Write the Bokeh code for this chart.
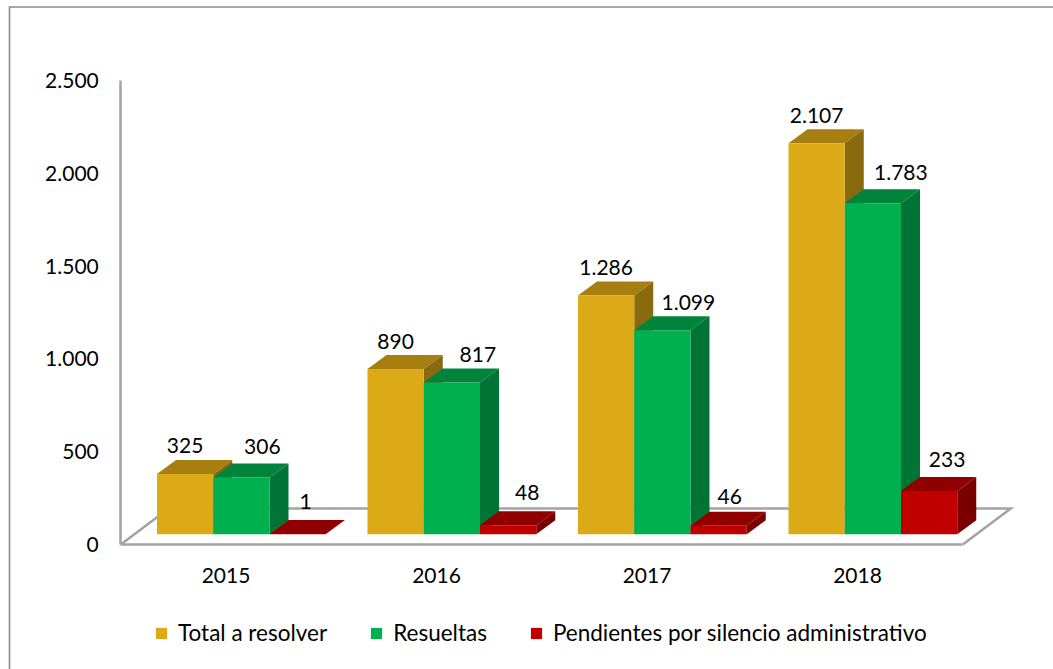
from bokeh.embed import file_html
from bokeh.resources import INLINE
from bokeh.plotting import figure
from bokeh.models import ColumnDataSource, FixedTicker, Legend, LegendItem, LinearAxis
from bokeh.core.properties import value

# ---- data ----
years = ["2015", "2016", "2017", "2018"]
total_a_resolver = [325, 890, 1286, 2107]
resueltas = [306, 817, 1099, 1783]
pendientes = [1, 48, 46, 233]
series_names = ["Total a resolver", "Resueltas", "Pendientes por silencio administrativo"]
y_ticks = [0, 500, 1000, 1500, 2000, 2500]
y_tick_labels = ["0", "500", "1.000", "1.500", "2.000", "2.500"]
value_labels = [
    ["325", "890", "1.286", "2.107"],
    ["306", "817", "1.099", "1.783"],
    ["1", "48", "46", "233"],
]

# ---- styling / layout ----
front_colors = ["#DCAA17", "#00B050", "#C00000"]
top_colors = ["#A67F10", "#00843C", "#900000"]
side_colors = ["#8A6A0E", "#007434", "#7A0000"]
AXIS_COLOR = "#A3A3A3"
FRAME_COLOR = "#8C8C8C"
FONT = "Lato"
FONT_SIZE = "21px"
LEGEND_FONT_SIZE = "22.5px"

WIDTH, HEIGHT = 1053, 669
PX_PER_CAT = 210.5
PX_PER_VAL = 0.1856
ZERO_X_PX, ZERO_Y_PX = 225.5, 544

def dx(px):
    return px / PX_PER_CAT

def dy(px):
    return px / PX_PER_VAL

x_start = dx(-ZERO_X_PX)
x_end = x_start + dx(WIDTH)
y_end = dy(ZERO_Y_PX)
y_start = y_end - dy(HEIGHT)
p = figure(
    width=WIDTH, height=HEIGHT, output_backend="svg", toolbar_location=None,
    x_range=(x_start, x_end),
    y_range=(y_start, y_end),
    min_border=0, x_axis_type=None, y_axis_type=None,
    background_fill_color="white", border_fill_color="white",
    outline_line_color=None,
)
p.grid.visible = False

# page frame (left and top edges only)
frame_x = x_start + dx(9)
frame_y = y_end - dy(6.5)
p.line(x=[frame_x, frame_x, x_end], y=[y_start, frame_y, frame_y],
       line_color=FRAME_COLOR, line_width=1.6, line_join="miter")

# floor
AX_LEFT, AX_RIGHT = -0.5, 3.5
floor_dx, floor_dy = dx(48), dy(36)
p.multi_line(
    xs=[[AX_LEFT, AX_LEFT + floor_dx, AX_RIGHT + floor_dx, AX_RIGHT]],
    ys=[[0, floor_dy, floor_dy, 0]],
    line_color=AXIS_COLOR, line_width=2.5, line_join="miter",
)

# 3D bars
bar_w = dx(56.25)
first_left = dx(156.5 - ZERO_X_PX)
base = dy(10.3)
depth_x, depth_y = dx(19), dy(14)
all_series = [total_a_resolver, resueltas, pendientes]
legend_items = []

for s, vals in enumerate(all_series):
    lefts = [first_left + i + s * bar_w for i in range(len(vals))]
    rights = [l + bar_w for l in lefts]
    tops = [base + v for v in vals]
    p.patches(
        xs=[[l, r, r + depth_x, l + depth_x] for l, r in zip(lefts, rights)],
        ys=[[t, t, t + depth_y, t + depth_y] for t in tops],
        fill_color=top_colors[s], line_color=None,
    )
    p.patches(
        xs=[[r, r + depth_x, r + depth_x, r] for r in rights],
        ys=[[base, base + depth_y, t + depth_y, t] for t in tops],
        fill_color=side_colors[s], line_color=None,
    )
    front = p.quad(left=lefts, right=rights, bottom=base, top=tops,
                   fill_color=front_colors[s], line_color=None)
    legend_items.append(LegendItem(label=series_names[s], renderers=[front]))

# data labels (pixel nudges from the centre of the bar's top back edge)
label_dx = [[0, 0, 0, 0], [21, 26, 26, 28], [8, 19, 11, 18]]
label_dy = [[14, 14, 14, 14], [17, 14, 14, 17], [19, 19, 15, 17]]
for s, vals in enumerate(all_series):
    src = ColumnDataSource(dict(
        x=[first_left + i + s * bar_w + bar_w / 2 for i in range(len(vals))],
        y=[base + v + depth_y for v in vals],
        t=value_labels[s],
        xo=label_dx[s],
        yo=[-d for d in label_dy[s]],
    ))
    p.text(x="x", y="y", text="t", x_offset="xo", y_offset="yo", source=src,
           text_align="center", text_baseline="middle", text_color="black",
           text_font=value(FONT), text_font_size=value(FONT_SIZE))

# axes
yax = LinearAxis(
    fixed_location=AX_LEFT, bounds=(0, 2500),
    ticker=FixedTicker(ticks=y_ticks),
    major_label_overrides=dict(zip(y_ticks, y_tick_labels)),
    major_tick_line_color=None, minor_tick_line_color=None,
    major_tick_out=0, major_tick_in=0, minor_tick_out=0, minor_tick_in=0,
    major_label_standoff=22,
    axis_line_color=AXIS_COLOR, axis_line_width=2.5,
    major_label_text_font=FONT, major_label_text_font_size=FONT_SIZE,
    major_label_text_color="black",
)
p.add_layout(yax, "left")

cat_ticks = list(range(len(years)))
xax = LinearAxis(
    fixed_location=0, bounds=(AX_LEFT, AX_RIGHT),
    ticker=FixedTicker(ticks=cat_ticks),
    major_label_overrides=dict(zip(cat_ticks, years)),
    major_tick_line_color=None, minor_tick_line_color=None,
    major_tick_out=0, major_tick_in=0, minor_tick_out=0, minor_tick_in=0,
    major_label_standoff=23,
    axis_line_color=AXIS_COLOR, axis_line_width=2.5,
    major_label_text_font=FONT, major_label_text_font_size=FONT_SIZE,
    major_label_text_color="black",
)
p.add_layout(xax, "below")

# legend
legend = Legend(
    items=legend_items, orientation="horizontal", location=(154, 23),
    spacing=42, padding=0, margin=0,
    glyph_width=14, glyph_height=14, label_standoff=10,
    label_text_font=FONT, label_text_font_size=LEGEND_FONT_SIZE, label_text_color="black",
    border_line_color=None, background_fill_alpha=0,
)
p.add_layout(legend, "center")

open("out.html", "w").write(file_html(p, INLINE))
